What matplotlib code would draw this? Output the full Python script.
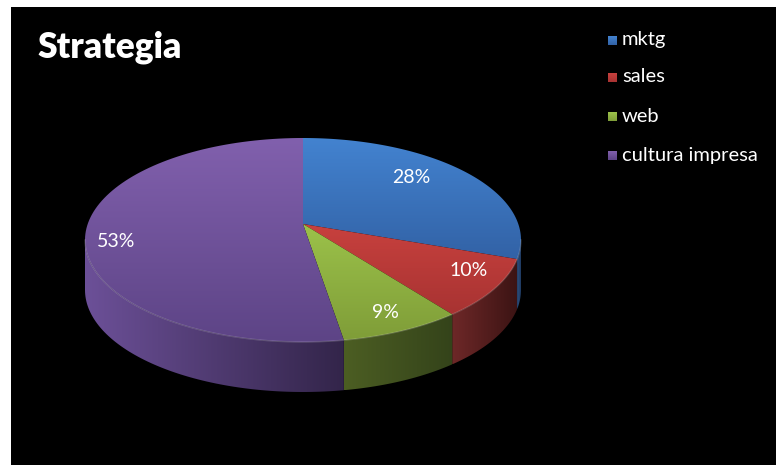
import numpy as np
import matplotlib.pyplot as plt
from matplotlib.patches import Polygon, Rectangle
from matplotlib.colors import to_rgb

plt.rcParams['font.family'] = ['Lato', 'DejaVu Sans']

title = "Strategia"
labels = ["mktg", "sales", "web", "cultura impresa"]
shares = [28, 10, 9, 53]

# top face colours (light -> dark), side colours (left -> right)
top_cols = [("#4383d0", "#3262a6"), ("#c8413e", "#a83332"),
            ("#9cc24a", "#7f9d38"), ("#8160ad", "#5d4486")]
side_cols = [("#2d4f80", "#1f3a60"), ("#6e2828", "#3c1414"),
             ("#4c5e23", "#34431a"), ("#6c5098", "#33254a")]
label_pos = [(411, 177), (469, 270), (385, 312), (116, 241)]

W, H = 776, 465
fig = plt.figure(figsize=(W / 100, H / 100), dpi=100)
fig.patch.set_facecolor('white')
ax = fig.add_axes([0, 0, 1, 1])
ax.set_xlim(0, W)
ax.set_ylim(H, 0)
ax.axis('off')
ax.add_patch(Rectangle((11, 7), W - 11, H - 7, facecolor='black', zorder=0))

# pie geometry in pixels (perspective: vertex above ellipse centre)
cx, cy, rx, ry = 303, 240, 218, 102
vx, vy = 303, 224
depth = 50


def pt(theta, dy=0.0):
    t = np.radians(theta)
    return cx + rx * np.sin(t), cy - ry * np.cos(t) + dy


def grad_fill(verts, c0, c1, horizontal, z):
    verts = np.asarray(verts)
    poly = Polygon(verts, closed=True, facecolor='none', edgecolor='none', zorder=z)
    ax.add_patch(poly)
    a, b = np.array(to_rgb(c0)), np.array(to_rgb(c1))
    f = np.linspace(0, 1, 200)[:, None]
    row = a * (1 - f) + b * f
    img = row[None, :, :] if horizontal else row[:, None, :]
    x0, x1 = verts[:, 0].min(), verts[:, 0].max()
    y0, y1 = verts[:, 1].min(), verts[:, 1].max()
    im = ax.imshow(img, extent=(x0, x1, y1, y0), origin='upper', aspect='auto',
                   interpolation='bilinear', zorder=z)
    im.set_clip_path(poly)


bounds = np.concatenate([[0], np.cumsum(shares)]) * 3.6

# side faces (front half only: 90..270 deg)
for i in range(len(shares)):
    a0, a1 = max(bounds[i], 90), min(bounds[i + 1], 270)
    if a1 <= a0:
        continue
    th = np.linspace(a0, a1, 80)
    top = np.array([pt(t) for t in th])
    bot = np.array([pt(t, depth) for t in th[::-1]])
    grad_fill(np.vstack([top, bot]), side_cols[i][0], side_cols[i][1], True, 2)

# top faces
for i in range(len(shares)):
    th = np.linspace(bounds[i], bounds[i + 1], 120)
    arc = np.array([pt(t) for t in th])
    verts = np.vstack([[vx, vy], arc])
    grad_fill(verts, top_cols[i][0], top_cols[i][1], False, 3)

# subtle rim highlight on front edge
th = np.linspace(90, 270, 200)
rim = np.array([pt(t) for t in th])
ax.plot(rim[:, 0], rim[:, 1], color='white', alpha=0.18, lw=1, zorder=4)

for s, (x, y) in zip(shares, label_pos):
    ax.text(x, y, f"{s}%", color='white', fontsize=14, ha='center', va='center', zorder=5)

ax.text(37, 47, title, color='white', fontsize=25.5, fontweight='heavy',
        ha='left', va='center', zorder=5)

leg_y = [40, 77, 116, 155]
for lab, (c0, c1), y in zip(labels, top_cols, leg_y):
    grad_fill([(608, y - 4), (617, y - 4), (617, y + 5), (608, y + 5)], c0, c1, False, 5)
    ax.text(622, y, lab, color='white', fontsize=14.5, ha='left', va='center', zorder=5)

ax.set_xlim(0, W)
ax.set_ylim(H, 0)
fig.savefig('out.png', dpi=100, facecolor=fig.get_facecolor())
